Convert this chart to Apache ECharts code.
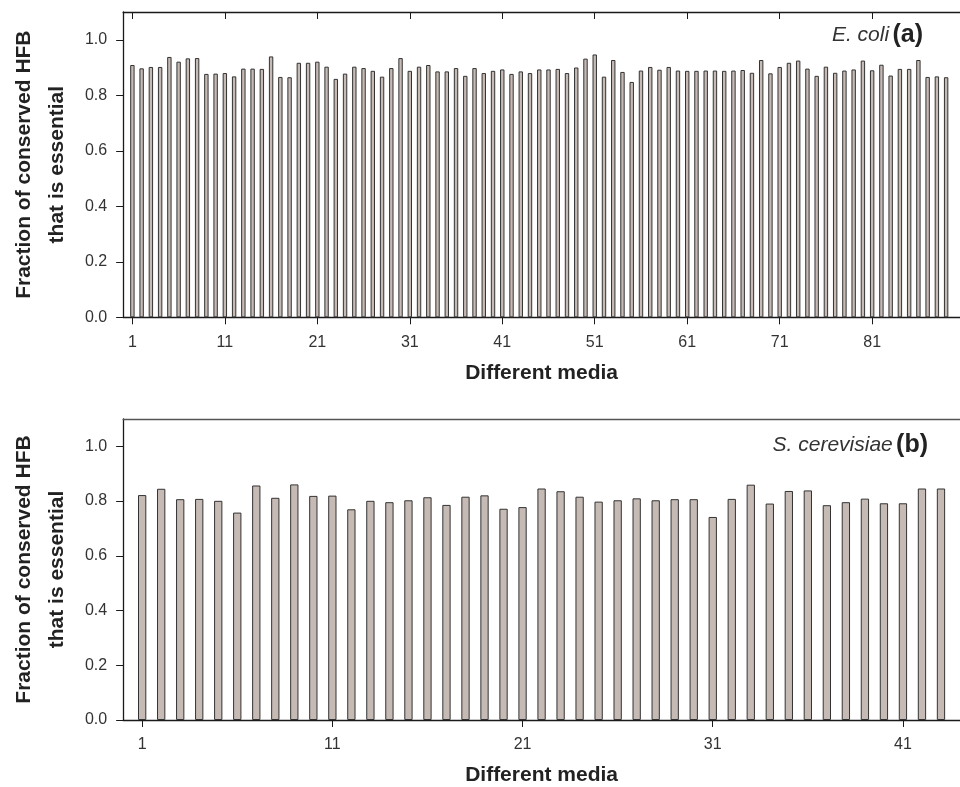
<!DOCTYPE html>
<html>
<head>
<meta charset="utf-8">
<script src="https://cdn.jsdelivr.net/npm/echarts@6/dist/echarts.min.js"></script>
<style>
  html, body { margin: 0; padding: 0; background: #fff; }
  #chart { width: 960px; height: 787px; }
</style>
</head>
<body>
<div id="chart"></div>
<script>
// Fraction of conserved HFB that is essential, per growth medium
const ecoliMedia = Array.from({ length: 89 }, (_, i) => i + 1);
const ecoliFraction = [
  0.909, 0.897, 0.902, 0.902, 0.938, 0.921, 0.933, 0.934, 0.877, 0.878,
  0.880, 0.868, 0.896, 0.896, 0.895, 0.940, 0.866, 0.865, 0.917, 0.917,
  0.921, 0.903, 0.859, 0.878, 0.903, 0.898, 0.888, 0.867, 0.898, 0.934,
  0.888, 0.903, 0.909, 0.886, 0.886, 0.898, 0.870, 0.898, 0.880, 0.888,
  0.893, 0.877, 0.886, 0.880, 0.893, 0.893, 0.895, 0.880, 0.900, 0.932,
  0.947, 0.867, 0.927, 0.884, 0.848, 0.889, 0.902, 0.892, 0.902, 0.889,
  0.888, 0.888, 0.889, 0.889, 0.888, 0.889, 0.891, 0.881, 0.927, 0.879,
  0.902, 0.917, 0.925, 0.896, 0.870, 0.903, 0.881, 0.889, 0.893, 0.925,
  0.890, 0.910, 0.871, 0.895, 0.895, 0.927, 0.866, 0.868, 0.865
];
const yeastMedia = Array.from({ length: 43 }, (_, i) => i + 1);
const yeastFraction = [
  0.822, 0.845, 0.807, 0.808, 0.801, 0.758, 0.857, 0.812, 0.861, 0.819,
  0.820, 0.770, 0.801, 0.796, 0.803, 0.814, 0.786, 0.816, 0.821, 0.772,
  0.778, 0.846, 0.836, 0.816, 0.798, 0.803, 0.810, 0.803, 0.807, 0.807,
  0.742, 0.808, 0.860, 0.791, 0.837, 0.839, 0.785, 0.796, 0.809, 0.792,
  0.792, 0.846, 0.846
];
const ecoliTicks = [1, 11, 21, 31, 41, 51, 61, 71, 81];
const yeastTicks = [1, 11, 21, 31, 41];
const yTicks = [0, 0.2, 0.4, 0.6, 0.8, 1.0];

const FONT = '"Liberation Sans", Arial, Helvetica, sans-serif';
const ink = '#1a1a1a';
const barStyle = { color: '#c6bab4', borderColor: '#333', borderWidth: 1 };

function bottomAxis(grid, max, ticks) {
  return {
    gridIndex: grid, type: 'value', min: 0, max: max, position: 'bottom',
    axisLine: { show: true, onZero: false, lineStyle: { color: ink, width: 1.3 } },
    axisTick: { show: true, length: 7, customValues: ticks, lineStyle: { color: ink } },
    axisLabel: { customValues: ticks, fontSize: 16, fontFamily: FONT, color: '#333', margin: 17 },
    splitLine: { show: false },
    name: 'Different media', nameLocation: 'middle', nameGap: 45,
    nameTextStyle: { fontSize: 21, fontWeight: 'bold', fontFamily: FONT, color: '#222' }
  };
}
function topAxis(grid, max, ticks, lineColor) {
  return {
    gridIndex: grid, type: 'value', min: 0, max: max, position: 'top',
    axisLine: { show: true, onZero: false, lineStyle: { color: lineColor, width: 1.3 } },
    axisTick: ticks ? { show: true, inside: true, length: 7, customValues: ticks, lineStyle: { color: ink } } : { show: false },
    axisLabel: { show: false },
    splitLine: { show: false }
  };
}
function leftAxis(grid) {
  return {
    gridIndex: grid, type: 'value', min: 0, max: 1.1,
    axisLine: { show: true, onZero: false, lineStyle: { color: ink, width: 1.3 } },
    axisTick: { show: true, length: 7, customValues: yTicks, lineStyle: { color: ink } },
    axisLabel: {
      customValues: yTicks, fontSize: 16, fontFamily: FONT, color: '#333', margin: 16,
      formatter: v => Number(v).toFixed(1)
    },
    splitLine: { show: false },
    name: 'Fraction of conserved HFB\nthat is essential',
    nameLocation: 'middle', nameRotate: 90, nameGap: 47,
    nameTextStyle: { fontSize: 21, fontWeight: 'bold', fontFamily: FONT, color: '#222', lineHeight: 33 }
  };
}

const chart = echarts.init(document.getElementById('chart'), null, { renderer: 'canvas' });
chart.setOption({
  animation: false,
  backgroundColor: '#fff',
  grid: [
    { left: 118, top: 12, width: 853.4, height: 305.3 },
    { left: 115, top: 419, width: 852.3, height: 305.3 }
  ],
  xAxis: [
    bottomAxis(0, 90.5, ecoliTicks),
    topAxis(0, 90.5, ecoliTicks, ink),
    bottomAxis(1, 44, yeastTicks),
    topAxis(1, 44, null, '#555')
  ],
  yAxis: [leftAxis(0), leftAxis(1)],
  series: [
    {
      type: 'bar', xAxisIndex: 0, yAxisIndex: 0, barWidth: 4.4,
      itemStyle: barStyle,
      data: ecoliMedia.map((m, i) => [m, ecoliFraction[i]])
    },
    {
      type: 'bar', xAxisIndex: 2, yAxisIndex: 1, barWidth: 8.3,
      itemStyle: barStyle,
      data: yeastMedia.map((m, i) => [m, yeastFraction[i]])
    }
  ],
  graphic: [
    {
      type: 'text', right: 37, top: 23,
      style: {
        text: '{i|E. coli} {b|(a)}',
        rich: {
          i: { fontSize: 21, fontStyle: 'italic', fontFamily: FONT, fill: '#333' },
          b: { fontSize: 25, fontWeight: 'bold', fontFamily: FONT, fill: '#222' }
        }
      }
    },
    {
      type: 'text', right: 32, top: 433,
      style: {
        text: '{i|S. cerevisiae} {b|(b)}',
        rich: {
          i: { fontSize: 21, fontStyle: 'italic', fontFamily: FONT, fill: '#333' },
          b: { fontSize: 25, fontWeight: 'bold', fontFamily: FONT, fill: '#222' }
        }
      }
    }
  ]
});
</script>
</body>
</html>
